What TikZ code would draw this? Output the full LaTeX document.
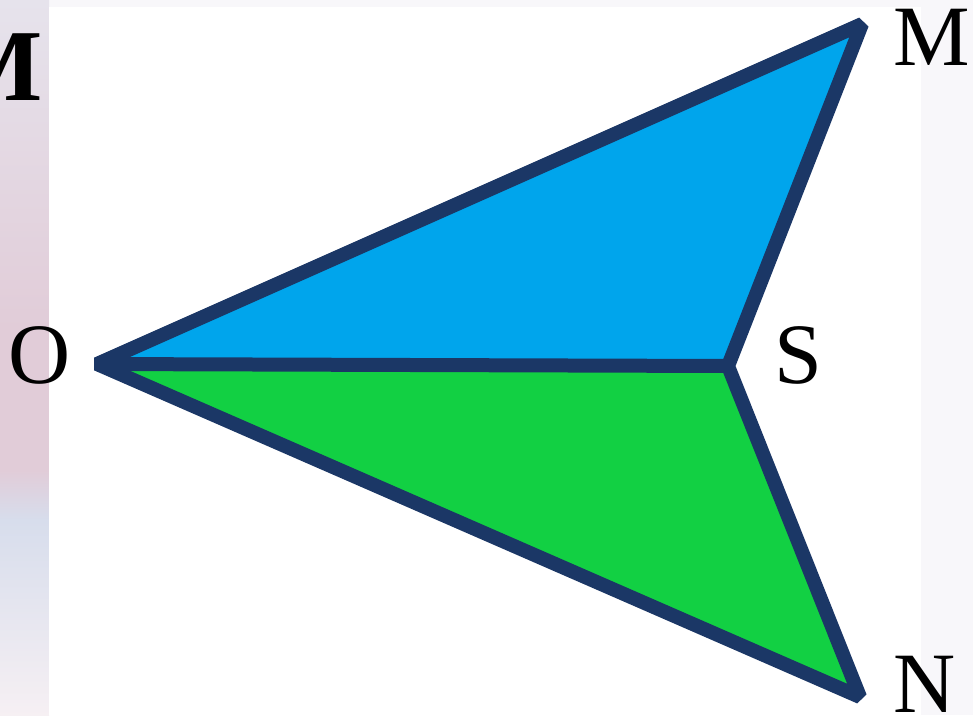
\documentclass[tikz,border=0pt]{standalone}
\usepackage{fontspec}
\setmainfont{Liberation Serif}
\begin{document}
\begin{tikzpicture}[x=1pt,y=-1pt,
  edge/.style={draw=navy,line width=14pt,line join=bevel,line cap=butt},
  lbl/.style={inner sep=0pt,anchor=base,font=\fontsize{86}{86}\selectfont}]
\definecolor{navy}{HTML}{1B3766}
\definecolor{skyfill}{HTML}{00A5EC}
\definecolor{grnfill}{HTML}{12D043}
\definecolor{lav}{HTML}{E6E3EC}
\definecolor{pinkish}{HTML}{E1CCD8}
\definecolor{bluish}{HTML}{D7DDEC}
\definecolor{rightpale}{HTML}{F8F7FA}
\useasboundingbox (0,0) rectangle (973,715);
\clip (0,0) rectangle (973,715);
% background
\fill[rightpale] (0,0) rectangle (973,715);
\shade[top color=lav,bottom color=pinkish] (0,0) rectangle (49,330);
\shade[top color=pinkish,bottom color=pinkish] (0,330) rectangle (49,470);
\shade[top color=pinkish,bottom color=bluish] (0,470) rectangle (49,520);
\shade[top color=bluish,bottom color=white!70!pinkish] (0,520) rectangle (49,715);
\fill[white] (49,7) rectangle (921,715);
% cut-off bold M
\node[inner sep=0pt,anchor=base east,font=\fontsize{102}{102}\selectfont\bfseries] (bm) at (43,100) {M};
% vertices
\coordinate (O) at (97,364);
\coordinate (S) at (728,366);
\coordinate (M) at (862,24);
\coordinate (N) at (860,697);
% fills
\fill[skyfill] (O) -- (M) -- (S) -- cycle;
\fill[grnfill] (O) -- (S) -- (N) -- cycle;
% outline
\draw[edge] (O) -- (M) -- (S) -- (N) -- cycle;
\draw[edge] (O) -- (S);
% labels
\node[lbl] (lO) at (40,383) {O};
\node[lbl] (lS) at (798,383) {S};
\node[lbl] (lM) at (932,65) {M};
\node[lbl] (lN) at (925,712) {N};
\end{tikzpicture}
\end{document}
